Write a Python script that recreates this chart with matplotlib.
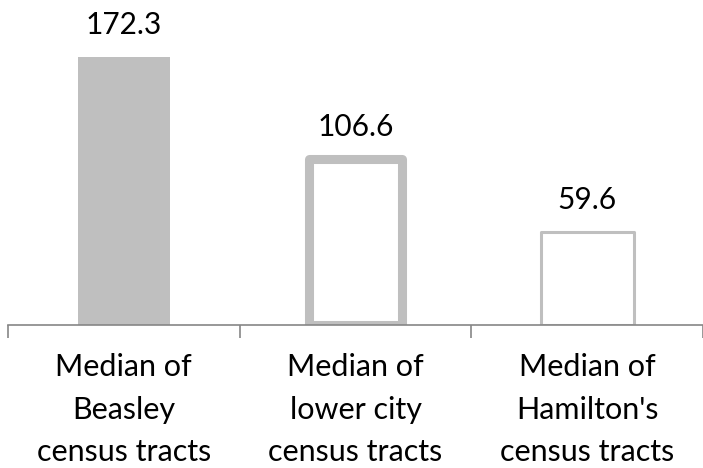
import numpy as np
import matplotlib.pyplot as plt

categories = ["Median of\nBeasley\ncensus tracts",
              "Median of\nlower city\ncensus tracts",
              "Median of\nHamilton's\ncensus tracts"]
values = [172.3, 106.6, 59.6]
value_labels = ["172.3", "106.6", "59.6"]

plt.rcParams['font.family'] = ['Lato', 'DejaVu Sans']

fig = plt.figure(figsize=(7.03, 4.68), dpi=100)
ax = fig.add_axes([8 / 703, 143 / 468, 695 / 703, 325 / 468])

x = np.arange(len(categories))
gray = '#bfbfbf'
facecolors = [gray, 'white', 'white']
edgecolors = ['none', gray, gray]
linewidths = [0, 6.5, 2.2]

bars = ax.bar(x, values, width=0.4, color=facecolors,
              edgecolor=edgecolors, linewidth=linewidths, zorder=2)
for b in bars:
    b.set_joinstyle('round')

for xi, v, lab in zip(x, values, value_labels):
    ax.annotate(lab, (xi, v), xytext=(0, 13.5), textcoords='offset points',
                ha='center', va='bottom', fontsize=21.5, color='black')

ax.set_xlim(-0.5, -0.5 + 695 / 234)
ax.set_ylim(0, 325 / 1.553)

for s in ['top', 'right', 'left']:
    ax.spines[s].set_visible(False)
ax.spines['bottom'].set_color('#868686')
ax.spines['bottom'].set_linewidth(1.2)
ax.set_yticks([])

ax.set_xticks([-0.5, 0.5, 1.5, 2.5])
ax.set_xticklabels([])
ax.tick_params(axis='x', which='major', length=9, width=1.2, color='#868686')
ax.set_xticks(x, minor=True)
ax.set_xticklabels(categories, minor=True, fontsize=22, linespacing=1.62)
ax.tick_params(axis='x', which='minor', length=0, pad=20.5)

fig.savefig('out.png', dpi=100)
